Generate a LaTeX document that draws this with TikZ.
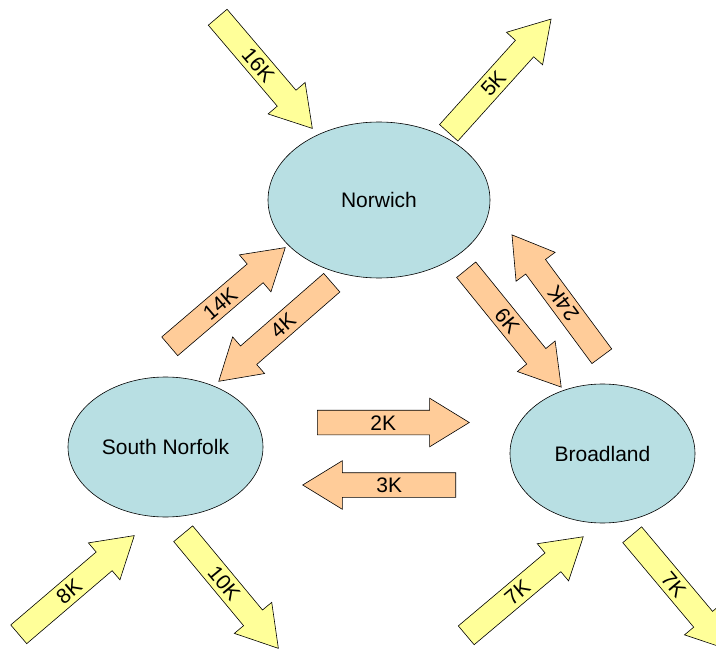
\documentclass[tikz,border=0pt]{standalone}
\usepackage{fontspec}
\setmainfont{Liberation Sans}
\usetikzlibrary{shapes.geometric,shapes.arrows}

\definecolor{townblue}{HTML}{B8DFE3}
\definecolor{flowyellow}{HTML}{FFFF99}
\definecolor{floworange}{HTML}{FFCC99}

\tikzset{
  town/.style={ellipse, draw, line width=0.6pt, fill=townblue, inner sep=0pt},
  flow/.style={single arrow, draw, line width=0.6pt, single arrow head extend=12pt,
    single arrow tip angle=63, text height=15pt, text depth=0pt,
    inner ysep=4.5pt, inner xsep=2pt, anchor=tail},
  inflow/.style={flow, fill=flowyellow},
  crossflow/.style={flow, fill=floworange}
}

\begin{document}
\begin{tikzpicture}[x=1pt,y=-1pt,every node/.style={font=\fontsize{21}{24}\selectfont}]
\useasboundingbox (0,0) rectangle (716,650);

% towns
\node[town, minimum width=222pt, minimum height=156pt] (norwich) at (379,200) {Norwich};
\node[town, minimum width=195pt, minimum height=140pt] (snorfolk) at (165.5,447) {South Norfolk};
\node[town, minimum width=185pt, minimum height=139pt] (broadland) at (602.5,453.5) {Broadland};

% norwich in / out
\node[inflow, minimum height=146pt, rotate=-49.6] (nin) at (217.5,17) {16K};
\node[inflow, minimum height=153pt, rotate=48] (nout) at (448.5,133) {5K};

% norwich - south norfolk
\node[crossflow, minimum height=152pt, rotate=40.5] (sn2n) at (169.5,346.5) {14K};
\node[crossflow, minimum height=150pt, rotate=41.1, shape border rotate=180] (n2sn) at (332,282.5) {4K};

% norwich - broadland
\node[crossflow, minimum height=151pt, rotate=-51] (n2b) at (466,269.5) {6K};
\node[crossflow, minimum height=151pt, rotate=126.5] (b2n) at (602,356.5) {24K};

% south norfolk - broadland
\node[crossflow, minimum height=152pt] (sn2b) at (317,422.5) {2K};
\node[crossflow, minimum height=153pt, shape border rotate=180] (b2sn) at (456,485) {3K};

% south norfolk in / out
\node[inflow, minimum height=152pt, rotate=40.5] (snin) at (18.5,634.5) {8K};
\node[inflow, minimum height=149pt, rotate=-50.3] (snout) at (183,533.5) {10K};

% broadland in / out
\node[inflow, minimum height=153pt, rotate=40.1] (bin) at (466,635.5) {7K};
\node[inflow, minimum height=150pt, rotate=-50] (bout) at (632,534.5) {7K};
\end{tikzpicture}
\end{document}
